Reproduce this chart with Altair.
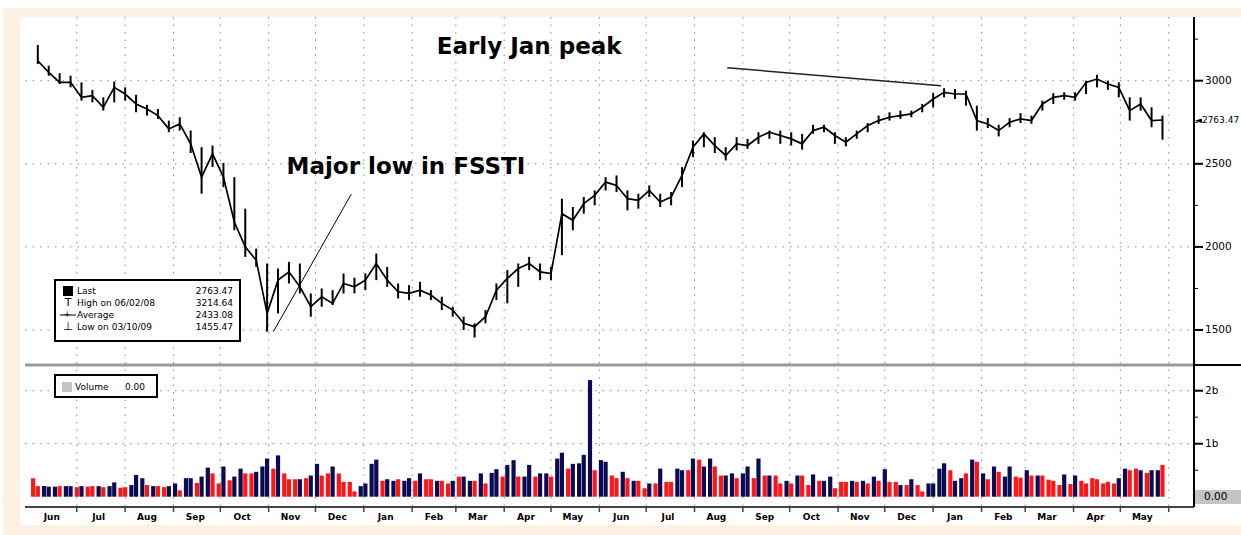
import altair as alt
import pandas as pd

# ---------------- data ----------------
week_ends = pd.date_range("2008-06-06", periods=104, freq="7D")

close = [3120, 3050, 2990, 2990, 2900, 2910, 2840, 2960, 2920, 2860,
         2830, 2790, 2710, 2740, 2620, 2420, 2560, 2420, 2150, 2000,
         1920, 1600, 1800, 1850, 1760, 1640, 1700, 1660, 1780, 1760,
         1800, 1900, 1800, 1730, 1720, 1740, 1710, 1660, 1620, 1540,
         1520, 1580, 1740, 1810, 1870, 1900, 1850, 1840, 2200, 2160,
         2260, 2310, 2390, 2370, 2290, 2280, 2340, 2270, 2300, 2430,
         2600, 2680, 2610, 2550, 2620, 2610, 2660, 2690, 2670, 2650,
         2620, 2700, 2720, 2670, 2630, 2680, 2730, 2760, 2780, 2790,
         2800, 2840, 2890, 2930, 2920, 2920, 2760, 2740, 2700, 2750,
         2770, 2760, 2860, 2900, 2910, 2900, 2990, 3010, 2980, 2960,
         2820, 2860, 2760, 2763.47]
high = [3215, 3090, 3045, 3030, 2990, 2945, 2900, 2995, 2960, 2915,
        2855, 2830, 2760, 2780, 2700, 2600, 2610, 2505, 2420, 2230,
        1990, 1900, 1870, 1910, 1900, 1720, 1750, 1740, 1840, 1815,
        1840, 1960, 1880, 1780, 1770, 1790, 1740, 1700, 1640, 1580,
        1540, 1620, 1780, 1860, 1900, 1940, 1900, 1880, 2290, 2240,
        2300, 2340, 2420, 2430, 2340, 2320, 2370, 2320, 2330, 2480,
        2640, 2690, 2660, 2600, 2660, 2650, 2690, 2700, 2700, 2690,
        2680, 2735, 2735, 2690, 2660, 2700, 2745, 2790, 2810, 2820,
        2820, 2860, 2925, 2955, 2950, 2940, 2850, 2775, 2735, 2775,
        2805, 2790, 2880, 2925, 2930, 2930, 3000, 3035, 3000, 2990,
        2900, 2900, 2840, 2790]
low = [3100, 3030, 2980, 2960, 2880, 2870, 2820, 2870, 2880, 2810,
       2790, 2770, 2690, 2700, 2565, 2320, 2480, 2360, 2100, 1940,
       1880, 1490, 1600, 1780, 1720, 1580, 1640, 1650, 1720, 1720,
       1740, 1800, 1760, 1690, 1680, 1700, 1680, 1620, 1580, 1500,
       1455, 1540, 1680, 1660, 1760, 1860, 1800, 1800, 1950, 2100,
       2200, 2250, 2340, 2330, 2220, 2230, 2300, 2240, 2250, 2360,
       2540, 2600, 2565, 2520, 2580, 2590, 2620, 2650, 2620, 2610,
       2585, 2680, 2690, 2620, 2605, 2650, 2690, 2740, 2760, 2770,
       2780, 2810, 2840, 2900, 2890, 2850, 2700, 2715, 2665, 2720,
       2745, 2740, 2820, 2860, 2885, 2880, 2920, 2960, 2945, 2900,
       2760, 2820, 2720, 2645]

# volume (billions), two readings per week (Tue, Fri)
volume_b = [
    0.35, 0.20, 0.20, 0.19, 0.19, 0.20, 0.20, 0.20, 0.18, 0.20, 0.19, 0.20, 0.20, 0.18, 0.20, 0.27, 0.17, 0.18, 0.22, 0.41,
    0.35, 0.22, 0.20, 0.20, 0.18, 0.20, 0.25, 0.12, 0.35, 0.35, 0.26, 0.38, 0.55, 0.44, 0.25, 0.57, 0.31, 0.38, 0.53, 0.44,
    0.44, 0.47, 0.57, 0.72, 0.53, 0.78, 0.44, 0.33, 0.33, 0.33, 0.35, 0.40, 0.62, 0.40, 0.44, 0.57, 0.44, 0.28, 0.28, 0.10,
    0.20, 0.25, 0.62, 0.70, 0.30, 0.33, 0.30, 0.33, 0.30, 0.35, 0.30, 0.44, 0.33, 0.33, 0.30, 0.30, 0.25, 0.30, 0.38, 0.38,
    0.30, 0.30, 0.44, 0.25, 0.45, 0.52, 0.38, 0.60, 0.69, 0.38, 0.38, 0.60, 0.38, 0.44, 0.44, 0.38, 0.72, 0.83, 0.53, 0.62,
    0.63, 0.79, 2.20, 0.50, 0.69, 0.66, 0.40, 0.35, 0.47, 0.35, 0.30, 0.30, 0.16, 0.25, 0.25, 0.53, 0.28, 0.28, 0.53, 0.50,
    0.50, 0.72, 0.70, 0.57, 0.72, 0.57, 0.40, 0.40, 0.44, 0.35, 0.44, 0.57, 0.35, 0.72, 0.40, 0.40, 0.40, 0.25, 0.30, 0.25,
    0.40, 0.40, 0.22, 0.42, 0.30, 0.30, 0.38, 0.16, 0.28, 0.28, 0.30, 0.28, 0.30, 0.25, 0.38, 0.30, 0.52, 0.28, 0.28, 0.22,
    0.22, 0.33, 0.22, 0.10, 0.25, 0.25, 0.53, 0.63, 0.50, 0.30, 0.35, 0.44, 0.70, 0.66, 0.44, 0.33, 0.57, 0.47, 0.38, 0.57,
    0.38, 0.36, 0.50, 0.40, 0.40, 0.40, 0.32, 0.30, 0.22, 0.42, 0.24, 0.40, 0.30, 0.25, 0.35, 0.33, 0.25, 0.28, 0.25, 0.35,
    0.53, 0.50, 0.53, 0.50, 0.45, 0.50, 0.50, 0.60,
]
# u = up day (navy), d = down day (red)
volume_dir = ("dd uu ud uu du dd ud uu dd uu "
              "ud ud du ud uu du ud du du ud "
              "du uu du dd du du ud du dd dd "
              "uu uu du ud uu du dd ud du du "
              "ud ud uu du ud uu du ud uu du "
              "uu ud uu dd ud ud du du dd uu "
              "du du ud du ud uu du du dd ud "
              "ud du du ud dd ud ud ud ud du "
              "du dd uu uu du ud ud ud ud uu "
              "dd ud ud dd du du dd dd dd du "
              "ud du du ud")

price_ticks = [1500, 2000, 2500, 3000]
price_minor = [1750, 2250, 2750, 3250]
vol_ticks = [1, 2]
vol_tick_labels = ["1b", "2b"]
vol_minor = [0.5, 1.5]
month_names = ["Jun", "Jul", "Aug", "Sep", "Oct", "Nov", "Dec", "Jan", "Feb", "Mar", "Apr", "May",
               "Jun", "Jul", "Aug", "Sep", "Oct", "Nov", "Dec", "Jan", "Feb", "Mar", "Apr", "May"]
last_value = 2763.47

legend_labels = ["Last", "High on 06/02/08", "Average", "Low on 03/10/09"]
legend_values = ["2763.47", "3214.64", "2433.08", "1455.47"]

# ---------------- frames ----------------
price_df = pd.DataFrame({"date": week_ends, "close": close, "high": high, "low": low})
vol_dates = []
for d in week_ends:
    vol_dates += [d - pd.Timedelta(days=3), d]
dirs = list(volume_dir.replace(" ", ""))
vol_df = pd.DataFrame({"date": vol_dates, "vol": volume_b, "dir": dirs})

month_starts = pd.date_range("2008-07-01", periods=24, freq="MS")
month_mid = pd.date_range("2008-06-01", periods=24, freq="MS") + pd.Timedelta(days=14)
grid_df = pd.DataFrame({"date": month_starts})
mlab_df = pd.DataFrame({"date": month_mid, "lab": month_names})

W, H = 1169, 490
xsc = alt.Scale(domain=[alt.DateTime(year=2008, month=6, date=1),
                        alt.DateTime(year=2010, month=6, date=14)])
psc = alt.Scale(domain=[435, 3383.3], zero=False, nice=False)
vsc = alt.Scale(domain=[-0.194, 9.051], zero=False, nice=False)

one = pd.DataFrame({"a": [0]})
FONT = "DejaVu Sans"
PEACH = "#FCF1E3"

def X(f="date"):
    return alt.X(f"{f}:T", scale=xsc, axis=None)

def YP(f):
    return alt.Y(f"{f}:Q", scale=psc, axis=None)

def YV(f):
    return alt.Y(f"{f}:Q", scale=vsc, axis=None)

def box(x1, x2, y1, y2, **kw):
    return alt.Chart(one).mark_rect(**kw).encode(
        x=alt.value(x1), x2=alt.value(x2), y=alt.value(y1), y2=alt.value(y2))

def hrule(x1, x2, y, **kw):
    return alt.Chart(one).mark_rule(**kw).encode(
        x=alt.value(x1), x2=alt.value(x2), y=alt.value(y))

layers = []
# frame
layers.append(box(-22, 1216, -9, 518, color=PEACH))
layers.append(box(-5, 1216, 0, 508, color="white"))

# grid
layers.append(alt.Chart(grid_df).mark_rule(color="#8a8a8a", strokeDash=[1.5, 6], strokeWidth=1).encode(
    x=X(), y=alt.value(0), y2=alt.value(H)))
layers.append(alt.Chart(pd.DataFrame({"p": price_ticks})).mark_rule(
    color="#8a8a8a", strokeDash=[1.5, 6], strokeWidth=1).encode(
    y=YP("p"), x=alt.value(0), x2=alt.value(W)))
layers.append(alt.Chart(pd.DataFrame({"v": vol_ticks})).mark_rule(
    color="#8a8a8a", strokeDash=[1.5, 6], strokeWidth=1).encode(
    y=YV("v"), x=alt.value(0), x2=alt.value(W)))

# volume bars
layers.append(alt.Chart(vol_df).mark_bar(size=4.2).encode(
    x=X(), y=YV("vol"), y2=alt.datum(0),
    color=alt.Color("dir:N", scale=alt.Scale(domain=["u", "d"], range=["#0B0B55", "#FF1515"]), legend=None)))

# price
layers.append(alt.Chart(price_df).mark_rule(color="black", strokeWidth=2).encode(
    x=X(), y=YP("low"), y2=alt.Y2("high:Q")))
layers.append(alt.Chart(price_df).mark_line(color="black", strokeWidth=1.7).encode(
    x=X(), y=YP("close")))

# annotation pointer lines
ann1 = pd.DataFrame({"date": [pd.Timestamp("2008-11-04"), pd.Timestamp("2008-12-24")], "p": [1490, 2318]})
ann2 = pd.DataFrame({"date": [pd.Timestamp("2009-08-22"), pd.Timestamp("2010-01-06")], "p": [3078, 2970]})
layers.append(alt.Chart(ann1).mark_line(color="black", strokeWidth=1).encode(x=X(), y=YP("p")))
layers.append(alt.Chart(ann2).mark_line(color="#222", strokeWidth=1.5).encode(x=X(), y=YP("p")))

# separators and axes lines
layers.append(hrule(0, W, 348, color="#9a9a9a", strokeWidth=3))
layers.append(hrule(W, 1216, 348, color="black", strokeWidth=2))
layers.append(hrule(0, W, H, color="#444", strokeWidth=2))
layers.append(alt.Chart(one).mark_rule(color="black", strokeWidth=2).encode(
    x=alt.value(W), y=alt.value(0), y2=alt.value(H)))

# month ticks + labels
layers.append(alt.Chart(grid_df).mark_rule(color="#444", strokeWidth=1.5).encode(
    x=X(), y=alt.value(H), y2=alt.value(H + 5)))
layers.append(alt.Chart(mlab_df).mark_text(font=FONT, fontSize=9, fontWeight="bold", color="black").encode(
    x=X(), y=alt.value(500), text="lab:N"))

# price axis ticks & labels
layers.append(alt.Chart(pd.DataFrame({"p": price_ticks})).mark_rule(color="black", strokeWidth=2).encode(
    y=YP("p"), x=alt.value(W), x2=alt.value(W + 9)))
layers.append(alt.Chart(pd.DataFrame({"p": price_minor})).mark_rule(color="black", strokeWidth=1).encode(
    y=YP("p"), x=alt.value(W), x2=alt.value(W + 4)))
layers.append(alt.Chart(pd.DataFrame({"p": price_ticks})).mark_text(
    font=FONT, fontSize=10.5, align="left", color="black").encode(
    y=YP("p"), x=alt.value(W + 11), text=alt.Text("p:Q", format="d")))
layers.append(alt.Chart(pd.DataFrame({"p": [last_value], "t": ["◄2763.47"]})).mark_text(
    font=FONT, fontSize=9, align="left", color="black").encode(
    y=YP("p"), x=alt.value(W + 1), text="t:N"))

# volume axis ticks & labels
layers.append(box(W + 1, 1216, 473, 487, color="#c4c4c4"))
layers.append(alt.Chart(pd.DataFrame({"v": vol_ticks})).mark_rule(color="black", strokeWidth=2).encode(
    y=YV("v"), x=alt.value(W), x2=alt.value(W + 9)))
layers.append(alt.Chart(pd.DataFrame({"v": vol_minor})).mark_rule(color="black", strokeWidth=1).encode(
    y=YV("v"), x=alt.value(W), x2=alt.value(W + 4)))
layers.append(alt.Chart(pd.DataFrame({"v": vol_ticks, "t": vol_tick_labels})).mark_text(
    font=FONT, fontSize=10.5, align="left", color="black").encode(
    y=YV("v"), x=alt.value(W + 11), text="t:N"))
layers.append(alt.Chart(pd.DataFrame({"v": [0], "t": ["0.00"]})).mark_text(
    font=FONT, fontSize=10.5, align="left", color="black").encode(
    y=YV("v"), x=alt.value(W + 10), text="t:N"))

# price legend box
layers.append(box(30, 215, 263, 324, fill="white", stroke="black", strokeWidth=2))
rows_y = [273.7, 285.7, 298, 310]
leg_df = pd.DataFrame({"lab": legend_labels, "val": legend_values, "yy": rows_y})
layers.append(alt.Chart(leg_df).mark_text(font=FONT, fontSize=9, align="left", color="black").encode(
    x=alt.value(52), y=alt.Y("yy:Q", scale=None), text="lab:N"))
layers.append(alt.Chart(leg_df).mark_text(font=FONT, fontSize=9, align="right", color="black").encode(
    x=alt.value(208), y=alt.Y("yy:Q", scale=None), text="val:N"))
layers.append(box(38, 48, 269, 279, color="black"))
layers.append(alt.Chart(one).mark_text(font=FONT, fontSize=11, color="black", text="T").encode(
    x=alt.value(43), y=alt.value(286)))
layers.append(alt.Chart(one).mark_text(font=FONT, fontSize=11, color="black", text="⊥").encode(
    x=alt.value(43), y=alt.value(310)))
layers.append(hrule(35, 51, 298, color="black", strokeWidth=1))
layers.append(alt.Chart(one).mark_text(font=FONT, fontSize=8, color="black", text="+").encode(
    x=alt.value(42), y=alt.value(298)))

# volume legend box
layers.append(box(30, 132, 358, 380, fill="white", stroke="black", strokeWidth=2))
layers.append(box(37, 47, 365, 375, color="#c4c4c4"))
layers.append(alt.Chart(one).mark_text(font=FONT, fontSize=9, align="left", color="black", text="Volume").encode(
    x=alt.value(50), y=alt.value(369.5)))
layers.append(alt.Chart(one).mark_text(font=FONT, fontSize=9, align="left", color="black", text="0.00").encode(
    x=alt.value(100), y=alt.value(369.5)))

# annotation texts
notes = pd.DataFrame({
    "date": [pd.Timestamp("2009-04-17"), pd.Timestamp("2009-01-28")],
    "p": [3203, 2481],
    "t": ["Early Jan peak", "Major low in FSSTI"],
})
layers.append(alt.Chart(notes).mark_text(font="DejaVu Sans", fontSize=23, fontWeight="bold",
                                         color="black", align="center", baseline="middle").encode(
    x=X(), y=YP("p"), text="t:N"))

chart = alt.layer(*layers).resolve_scale(y="independent").properties(
    width=W, height=H,
    autosize=alt.AutoSizeParams(type="none"),
    padding={"left": 25, "top": 17, "right": 47, "bottom": 28},
).configure(background="white").configure_view(stroke=None)

chart.save("out.html", embed_options={"renderer": "svg", "actions": False})
